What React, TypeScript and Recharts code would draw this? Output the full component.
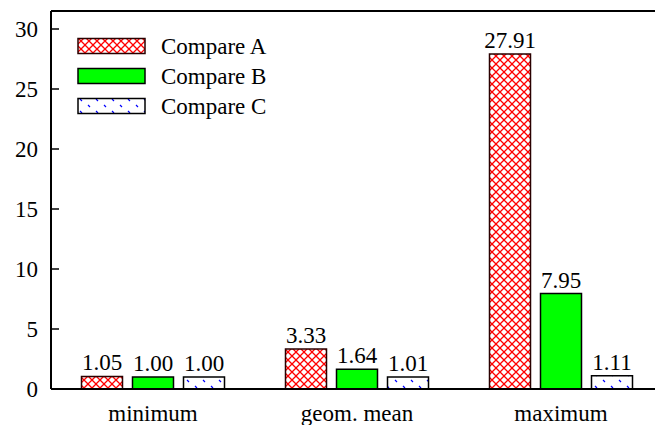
import { BarChart, Bar, XAxis, YAxis, LabelList, ReferenceLine } from 'recharts';

const categories = ['minimum', 'geom. mean', 'maximum'];
const compareA = [1.05, 3.33, 27.91];
const compareB = [1.0, 1.64, 7.95];
const compareC = [1.0, 1.01, 1.11];
const yTicks = [0, 5, 10, 15, 20, 25, 30];

const seriesNames = ['Compare A', 'Compare B', 'Compare C'];
const seriesFills = ['url(#hatchA)', '#00ff00', 'url(#hatchC)'];
const seriesStrokes = ['#2a0000', '#000000', '#000000'];

const data = categories.map((name, i) => ({
  name,
  a: compareA[i],
  b: compareB[i],
  c: compareC[i],
}));

const FONT = '"Liberation Serif", "Times New Roman", serif';
const FS = 23;

const YTick = (props: any) => {
  const { x, y, payload } = props;
  return (
    <g>
      <line x1={x + 13} x2={x + 21} y1={y} y2={y} stroke="#000" strokeWidth={1.5} />
      <text x={x} y={y} dy="0.36em" textAnchor="end" fontSize={FS} fill="#000" fontFamily={FONT}>
        {payload.value}
      </text>
    </g>
  );
};

const LegendBox = () => (
  <div
    style={{
      position: 'absolute',
      left: 77,
      top: 31,
      fontFamily: FONT,
      fontSize: FS,
      color: '#000',
      lineHeight: 1,
    }}
  >
    {seriesNames.map((n, i) => (
      <div key={n} style={{ display: 'flex', alignItems: 'center', height: 30 }}>
        <svg width={70} height={18} style={{ marginRight: 14 }}>
          <rect x={1} y={1.5} width={67} height={15} fill={seriesFills[i]} stroke={seriesStrokes[i]} strokeWidth={1.5} />
        </svg>
        <span>{n}</span>
      </div>
    ))}
  </div>
);

const fmt = (v: any) => Number(v).toFixed(2);

export default function App() {
  return (
    <div style={{ position: 'fixed', left: 0, top: 0, width: 655, height: 425, overflow: 'hidden', background: '#fff' }}>
      <BarChart
        width={670}
        height={425}
        data={data}
        margin={{ top: 11, right: 7, bottom: 0, left: 0 }}
        barCategoryGap={30.5}
        barGap={10}
      >
        <defs>
          <pattern id="hatchA" patternUnits="userSpaceOnUse" width={8} height={8}>
            <rect width={8} height={8} fill="#fff" />
            <path d="M0,0 L8,8 M0,8 L8,0" stroke="#ff0000" strokeWidth={1.3} />
          </pattern>
          <pattern id="hatchC" patternUnits="userSpaceOnUse" width={16} height={12}>
            <rect width={16} height={12} fill="#fff" />
            <path d="M3,2 L5,4 M11,8 L13,10" stroke="#0000ff" strokeWidth={1.2} />
          </pattern>
        </defs>
        <XAxis
          dataKey="name"
          tickLine={false}
          axisLine={{ stroke: '#000', strokeWidth: 2 }}
          tick={{ fontSize: FS, fill: '#000', fontFamily: FONT }}
          tickSize={0}
          tickMargin={16}
          height={36}
        />
        <YAxis
          width={51}
          domain={[0, 31.5]}
          ticks={yTicks}
          allowDataOverflow
          tickLine={false}
          tickSize={0}
          tickMargin={13}
          axisLine={{ stroke: '#000', strokeWidth: 2 }}
          tick={<YTick />}
        />
        <ReferenceLine y={31.5} stroke="#000" strokeWidth={2} />
        {['a', 'b', 'c'].map((k, i) => (
          <Bar
            key={k}
            dataKey={k}
            name={seriesNames[i]}
            fill={seriesFills[i]}
            stroke={seriesStrokes[i]}
            strokeWidth={1.5}
            isAnimationActive={false}
          >
            <LabelList
              dataKey={k}
              position="top"
              offset={6}
              formatter={fmt}
              style={{ fontSize: FS, fill: '#000', fontFamily: FONT }}
            />
          </Bar>
        ))}
      </BarChart>
      <LegendBox />
    </div>
  );
}
